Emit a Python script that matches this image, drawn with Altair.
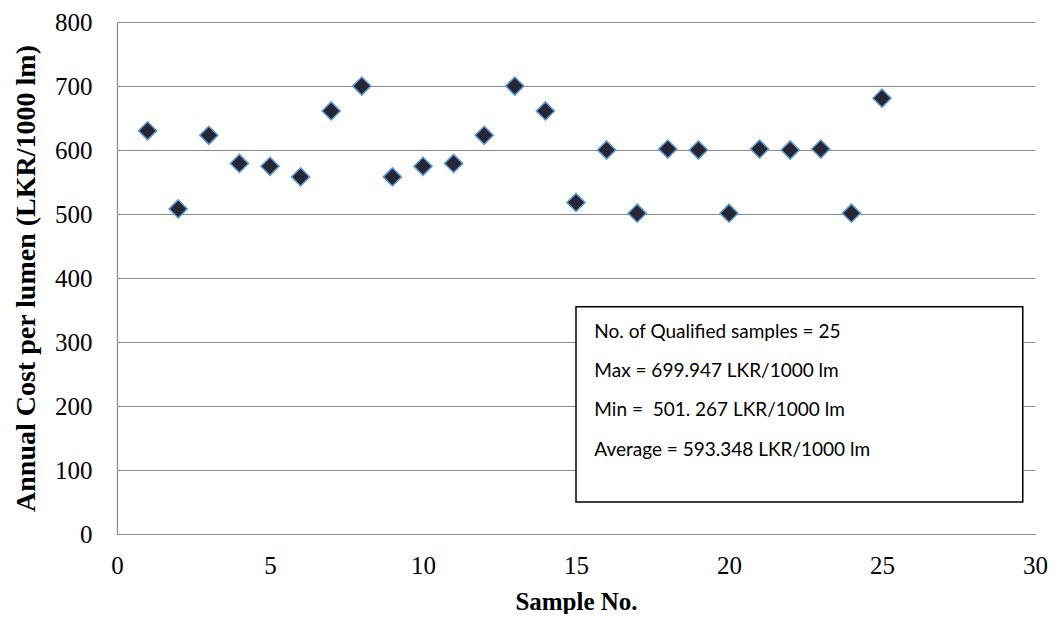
import altair as alt
import pandas as pd

samples = list(range(1, 26))
costs = [630, 508, 623, 579, 574.5, 558, 661, 699.947, 558, 574.5,
         579, 623, 699.947, 661, 518, 600, 501.267, 601.5, 600, 501.267,
         601.5, 600, 601.5, 501.267, 681]

box_x = [15.0]
box_x2 = [29.6]
box_y = [50.0]
box_y2 = [355.0]

note_lines = ["No. of Qualified samples = 25",
              "Max = 699.947 LKR/1000 lm",
              "Min = \u00a0501. 267 LKR/1000 lm",
              "Average = 593.348 LKR/1000 lm"]
note_x = [15.6, 15.6, 15.6, 15.6]
note_y = [315, 254, 193, 132]

df = pd.DataFrame({"sample": samples, "cost": costs})
box_df = pd.DataFrame({"x": box_x, "x2": box_x2, "y": box_y, "y2": box_y2})
note_df = pd.DataFrame({"x": note_x, "y": note_y, "t": note_lines})

xscale = alt.Scale(domain=[0, 30], nice=False, zero=True)
yscale = alt.Scale(domain=[0, 800], nice=False)

points = alt.Chart(df).mark_point(
    shape="diamond", filled=True, fill="#262635", stroke="#5b9bd5",
    strokeWidth=1.5, size=330, opacity=1
).encode(
    x=alt.X("sample:Q", scale=xscale,
            axis=alt.Axis(title="Sample No.", values=[0, 5, 10, 15, 20, 25, 30],
                          grid=False, ticks=False, labelPadding=19,
                          labelFlush=False, titlePadding=11)),
    y=alt.Y("cost:Q", scale=yscale,
            axis=alt.Axis(title="Annual Cost per lumen (LKR/1000 lm)",
                          values=[0, 100, 200, 300, 400, 500, 600, 700, 800],
                          grid=True, ticks=False, labelPadding=25,
                          labelFlush=False, titlePadding=14)),
)

box = alt.Chart(box_df).mark_rect(fill="white", stroke="black", strokeWidth=1.5).encode(
    x=alt.X("x:Q", scale=xscale), x2="x2:Q",
    y=alt.Y("y:Q", scale=yscale), y2="y2:Q",
)

notes = alt.Chart(note_df).mark_text(
    align="left", baseline="middle", font="Lato", fontSize=19, color="black"
).encode(
    x=alt.X("x:Q", scale=xscale),
    y=alt.Y("y:Q", scale=yscale),
    text="t:N",
)

chart = alt.layer(points, box, notes).properties(
    width=918, height=512,
    padding={"left": 109, "top": 14, "right": 14, "bottom": 80},
    autosize=alt.AutoSizeParams(type="none"),
).configure_view(stroke=None).configure_axis(
    labelFont="Liberation Serif", labelFontSize=25, labelColor="black",
    titleFont="Liberation Serif", titleFontSize=25, titleFontWeight="bold",
    titleColor="black", domainColor="#8a8a8a", domainWidth=1.2,
    gridColor="#8a8a8a", gridWidth=1.2,
).configure_axisY(titleFontSize=28)

chart.save("out.html", embed_options={"renderer": "svg", "actions": False})
